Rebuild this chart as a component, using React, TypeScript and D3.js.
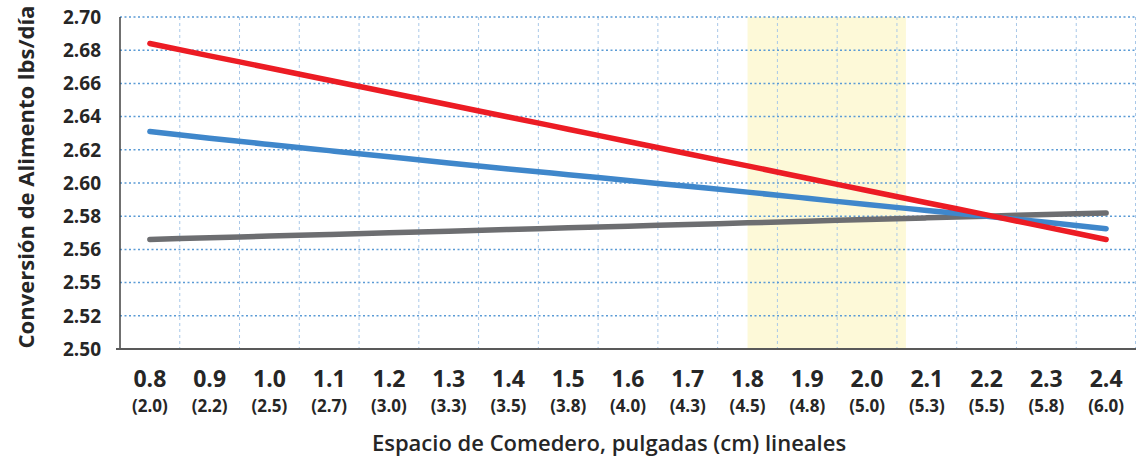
import React from 'react'
import * as d3 from 'd3'

// pulgadas lineales y su equivalente en cm
const inches = [0.8, 0.9, 1.0, 1.1, 1.2, 1.3, 1.4, 1.5, 1.6, 1.7, 1.8, 1.9, 2.0, 2.1, 2.2, 2.3, 2.4]
const cmLabels = ['2.0', '2.2', '2.5', '2.7', '3.0', '3.3', '3.5', '3.8', '4.0', '4.3', '4.5', '4.8', '5.0', '5.3', '5.5', '5.8', '6.0']

const redSeries = [2.6840, 2.6766, 2.6693, 2.6619, 2.6545, 2.6471, 2.6398, 2.6324, 2.6250, 2.6176, 2.6103, 2.6029, 2.5955, 2.5881, 2.5808, 2.5734, 2.5660]
const blueSeries = [2.6310, 2.6270, 2.6232, 2.6195, 2.6158, 2.6121, 2.6085, 2.6050, 2.6015, 2.5980, 2.5945, 2.5908, 2.5870, 2.5835, 2.5800, 2.5763, 2.5725]
const graySeries = [2.566, 2.567, 2.568, 2.569, 2.570, 2.571, 2.572, 2.573, 2.574, 2.575, 2.576, 2.577, 2.578, 2.579, 2.580, 2.581, 2.582]

const yTicks = [2.50, 2.52, 2.54, 2.56, 2.58, 2.60, 2.62, 2.64, 2.66, 2.68, 2.70]
const yTickLabels = ['2.50', '2.52', '2.55', '2.56', '2.58', '2.60', '2.62', '2.64', '2.66', '2.68', '2.70']

const highlight = [1.8, 2.065]

export default function App() {
    const width = 1136, height = 457
    const left = 120, right = 1136, top = 17, bottom = 349

    const step = (right - left) / inches.length
    const x = d3.scaleLinear()
        .domain([0.8, 2.4])
        .range([left + step / 2, right - step / 2])
    const y = d3.scaleLinear()
        .domain([2.50, 2.70])
        .range([bottom, top])

    const line = d3.line<number>()
        .x((d, i) => x(inches[i]))
        .y(d => y(d))
        .curve(d3.curveMonotoneX)

    const series = [
        { values: graySeries, color: '#6d6e71' },
        { values: blueSeries, color: '#3f87cb' },
        { values: redSeries, color: '#ec1c24' },
    ]

    const font = '"Open Sans", sans-serif'

    return (
        <div style={{ position: 'fixed', left: 0, top: 0 }}>
            <svg width={width} height={height} style={{ display: 'block', background: '#fff' }}>
                <rect x={x(highlight[0])} y={top} width={x(highlight[1]) - x(highlight[0])} height={bottom - top} fill='#fdf9d8' />

                {inches.slice(0, -1).map((d, i) => {
                    const gx = x(d) + step / 2
                    return <line key={'v' + i} x1={gx} x2={gx} y1={top} y2={bottom}
                        stroke='#a9c8e8' strokeWidth={1} strokeDasharray='3,3' />
                })}
                <line x1={right - 0.5} x2={right - 0.5} y1={top} y2={bottom} stroke='#a9c8e8' strokeDasharray='3,3' />

                {yTicks.slice(1).map((d, i) => (
                    <line key={'h' + i} x1={left} x2={right} y1={y(d)} y2={y(d)}
                        stroke='#5b9bd5' strokeWidth={1.5} strokeDasharray='2,2.5' />
                ))}

                <line x1={left} x2={left} y1={top} y2={bottom} stroke='#404040' strokeWidth={1.5} />
                <line x1={116} x2={right} y1={bottom} y2={bottom} stroke='#595959' strokeWidth={2} />

                {series.map((s, i) => (
                    <path key={'s' + i} d={line(s.values) || ''} fill='none' stroke={s.color}
                        strokeWidth={5.5} strokeLinecap='round' strokeLinejoin='round' />
                ))}

                {yTicks.map((d, i) => (
                    <text key={'yt' + i} x={101} y={y(d)} dy='0.36em' textAnchor='end'
                        fontFamily={font} fontWeight={700} fontSize={19} fill='#262626'>{yTickLabels[i]}</text>
                ))}

                {inches.map((d, i) => (
                    <g key={'xt' + i} transform={`translate(${x(d)},0)`}>
                        <text y={387} textAnchor='middle' fontFamily={font} fontWeight={700} fontSize={23} fill='#262626'>{d.toFixed(1)}</text>
                        <text y={412} textAnchor='middle' fontFamily={font} fontWeight={700} fontSize={17} fill='#262626'>({cmLabels[i]})</text>
                    </g>
                ))}

                <text x={609} y={451} textAnchor='middle' fontFamily={font} fontWeight={600} fontSize={22} fill='#262626'>
                    Espacio de Comedero, pulgadas (cm) lineales
                </text>
                <text transform={`translate(34,${(top + bottom) / 2 - 6}) rotate(-90)`} textAnchor='middle'
                    fontFamily={font} fontWeight={700} fontSize={22} fill='#262626'>
                    Conversión de Alimento lbs/día
                </text>
            </svg>
        </div>
    )
}
